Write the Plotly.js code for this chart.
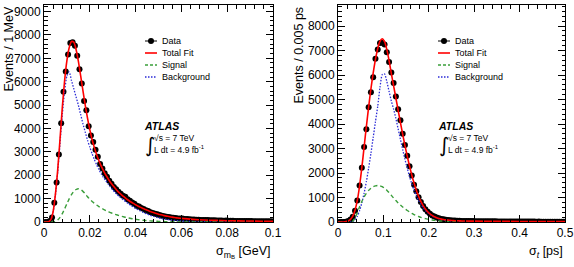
<!DOCTYPE html>
<html>
<head>
<meta charset="utf-8">
<script src="https://cdn.plot.ly/plotly-3.0.1.min.js"></script>
<style>
  html, body { margin: 0; padding: 0; background: #fff; }
  #chart { width: 574px; height: 267px; }
</style>
</head>
<body>
<div id="chart"></div>
<script>
// ---------- Left panel: per-candidate mass uncertainty (1 MeV bins) ----------
const massBinWidth = 0.001;
const massCounts = [
  0, 0, 40, 190, 825, 1690, 2890, 4220, 5575, 6440,
  7160, 7650, 7690, 7540, 7110, 6530, 5920, 5175, 4780, 4095,
  3700, 3425, 3090, 2790, 2480, 2290, 2080, 1930, 1760, 1640,
  1500, 1400, 1290, 1210, 1120, 1080, 970, 905, 830, 780,
  700, 660, 600, 555, 500, 470, 420, 390, 350, 330,
  295, 270, 250, 225, 210, 195, 180, 170, 155, 150,
  146, 130, 125, 121, 110, 105, 100, 93, 90, 88,
  82, 84, 76, 72, 70, 63, 64, 62, 58, 60,
  54, 52, 50, 45, 47, 45, 43, 42, 43, 39,
  38, 36, 35, 31, 33, 32, 31, 33, 30, 29
];
const massFitX = [
  0, 0.001, 0.002, 0.003, 0.004, 0.005, 0.006, 0.007, 0.008, 0.009,
  0.010, 0.011, 0.012, 0.013, 0.014, 0.015, 0.016, 0.017, 0.018, 0.019,
  0.020, 0.021, 0.022, 0.023, 0.024, 0.025, 0.026, 0.027, 0.028, 0.029,
  0.030, 0.031, 0.032, 0.033, 0.034, 0.035, 0.036, 0.037, 0.038, 0.039,
  0.040, 0.041, 0.042, 0.043, 0.044, 0.045, 0.046, 0.047, 0.048, 0.049,
  0.050, 0.051, 0.052, 0.053, 0.054, 0.055, 0.056, 0.057, 0.058, 0.059,
  0.060, 0.065, 0.070, 0.075, 0.080, 0.085, 0.090, 0.095, 0.100
];
const massTotalFit = [
  0, 0, 10, 100, 450, 1200, 2250, 3550, 4900, 6050,
  6900, 7450, 7720, 7690, 7380, 6880, 6260, 5620, 5000, 4440,
  3950, 3530, 3180, 2880, 2620, 2390, 2190, 2010, 1850, 1700,
  1570, 1450, 1340, 1240, 1150, 1070, 990, 920, 855, 795,
  740, 685, 635, 590, 545, 505, 465, 430, 395, 365,
  335, 310, 285, 262, 242, 224, 207, 192, 178, 166,
  155, 112, 85, 68, 56, 47, 40, 34, 30
];
const massSignal = [
  0, 0, 0, 0, 5, 30, 90, 200, 360, 560,
  780, 990, 1170, 1310, 1390, 1420, 1390, 1310, 1210, 1080,
  975, 880, 800, 725, 655, 595, 540, 490, 445, 405,
  365, 330, 300, 270, 242, 216, 192, 170, 150, 132,
  116, 101, 88, 77, 67, 58, 50, 44, 38, 33,
  28, 24, 21, 18, 15, 13, 11, 9, 8, 6,
  5, 2, 1, 0, 0, 0, 0, 0, 0
];
const massBackground = [
  0, 0, 10, 100, 440, 1160, 2150, 3380, 4600, 5600,
  6250, 6420, 6050, 5700, 5350, 5000, 4600, 4200, 3850, 3500,
  3200, 2920, 2670, 2440, 2240, 2060, 1900, 1760, 1630, 1500,
  1380, 1270, 1170, 1080, 1000, 920, 845, 775, 705, 640,
  580, 525, 475, 425, 380, 340, 300, 265, 235, 205,
  180, 158, 138, 120, 105, 92, 80, 70, 61, 53,
  46, 22, 11, 6, 3, 2, 1, 1, 0
];

// ---------- Right panel: per-candidate proper-time uncertainty (0.005 ps bins) ----------
const timeBinWidth = 0.005;
const timeCounts = [
  0, 0, 5, 15, 40, 100, 216, 460, 880, 1490,
  2210, 3064, 3783, 4690, 5300, 5910, 6670, 7040, 7310, 7320,
  7250, 6930, 6535, 6100, 5680, 5125, 4600, 4150, 3600, 3145,
  2700, 2280, 1900, 1520, 1260, 1010, 820, 650, 520, 420,
  340, 270, 220, 180, 150, 125, 108, 92, 80, 70,
  63, 58, 52, 48, 45, 42, 40, 38, 36, 37,
  33, 34, 31, 30, 31, 28, 29, 27, 26, 27,
  25, 24, 25, 22, 23, 22, 21, 22, 20, 19,
  20, 18, 19, 17, 18, 16, 17, 15, 16, 14,
  15, 14, 13, 14, 12, 13, 11, 12, 11, 10
];
const timeFitX = [
  0, 0.0075, 0.0125, 0.0175, 0.0225, 0.0275, 0.0325, 0.0375, 0.0425, 0.0475,
  0.0525, 0.0575, 0.0625, 0.0675, 0.0725, 0.0775, 0.0825, 0.0875, 0.0925, 0.0975,
  0.1025, 0.1075, 0.1125, 0.1175, 0.1225, 0.1275, 0.1325, 0.1375, 0.1425, 0.1475,
  0.1525, 0.1575, 0.1625, 0.1675, 0.1725, 0.1775, 0.1825, 0.1875, 0.1925, 0.1975,
  0.2025, 0.2075, 0.2125, 0.2175, 0.2225, 0.2275, 0.2325, 0.2375, 0.2425, 0.2475,
  0.2525, 0.2575, 0.2625, 0.2675, 0.2725, 0.2775, 0.2825, 0.30, 0.35, 0.40,
  0.45, 0.50
];
const timeTotalFit = [
  0, 0, 3, 15, 45, 110, 240, 480, 880, 1470,
  2220, 3060, 3900, 4700, 5430, 6080, 6640, 7080, 7380, 7480,
  7360, 7050, 6590, 6060, 5560, 5060, 4560, 4060, 3580, 3120,
  2690, 2290, 1920, 1590, 1300, 1050, 840, 670, 530, 420,
  335, 268, 215, 175, 143, 118, 100, 86, 75, 66,
  59, 54, 50, 46, 43, 41, 39, 35, 28, 23,
  19, 16
];
const timeSignal = [
  0, 0, 0, 0, 0, 0, 30, 150, 380, 620,
  840, 1020, 1170, 1290, 1380, 1440, 1475, 1490, 1480, 1440,
  1380, 1300, 1200, 1090, 980, 880, 780, 690, 610, 535,
  470, 410, 355, 305, 262, 224, 190, 162, 137, 115,
  97, 82, 68, 57, 47, 38, 31, 25, 20, 15,
  12, 9, 7, 5, 4, 3, 2, 1, 0, 0,
  0, 0
];
const timeBackground = [
  0, 0, 0, 0, 0, 0, 20, 90, 230, 460,
  780, 1180, 1650, 2200, 2800, 3450, 4100, 4720, 5500, 6020,
  6050, 5740, 5330, 4940, 4610, 4230, 3800, 3380, 2960, 2560,
  2200, 1860, 1560, 1300, 1070, 880, 720, 585, 475, 385,
  310, 250, 200, 162, 130, 105, 85, 68, 55, 44,
  36, 29, 24, 20, 17, 14, 12, 8, 4, 2,
  1, 1
];

// Labels
const legendLabels = ['Data', 'Total Fit', 'Signal', 'Background'];
const colours = { data: '#000000', total: '#ff0000', signal: '#3a9e3a', background: '#2b2bd6' };
const FONT = 'Liberation Sans, Arial, Helvetica, sans-serif';
const BKG_DASH = '1.5px,1.5px';
const SIG_DASH = '4px,3px';

const W = 574, H = 267;
const px = x => x / W;          // pixel -> paper x
const py = y => 1 - y / H;      // pixel -> paper y

function binCentres(width, n) {
  const c = [];
  for (let i = 0; i < n; i++) c.push((i + 0.5) * width);
  return c;
}

function panelTraces(xa, ya, centres, counts, halfWidth, fitX, total, sig, bkg) {
  return [
    {
      type: 'scatter', mode: 'markers', x: centres, y: counts, xaxis: xa, yaxis: ya,
      marker: { color: colours.data, size: 6 },
      error_y: { type: 'sqrt', color: '#000', thickness: 1, width: 0 },
      error_x: { type: 'constant', value: halfWidth, color: '#000', thickness: 1, width: 0 },
      showlegend: false, hoverinfo: 'skip'
    },
    {
      type: 'scatter', mode: 'lines', x: fitX, y: bkg, xaxis: xa, yaxis: ya,
      line: { color: colours.background, width: 1.3, dash: BKG_DASH, shape: 'spline', smoothing: 0.6 },
      showlegend: false, hoverinfo: 'skip'
    },
    {
      type: 'scatter', mode: 'lines', x: fitX, y: sig, xaxis: xa, yaxis: ya,
      line: { color: colours.signal, width: 1.4, dash: SIG_DASH, shape: 'spline', smoothing: 0.6 },
      showlegend: false, hoverinfo: 'skip'
    },
    {
      type: 'scatter', mode: 'lines', x: fitX, y: total, xaxis: xa, yaxis: ya,
      line: { color: colours.total, width: 1.6, shape: 'spline', smoothing: 0.6 },
      showlegend: false, hoverinfo: 'skip'
    }
  ];
}

const traces = [].concat(
  panelTraces('x', 'y', binCentres(massBinWidth, massCounts.length), massCounts, massBinWidth / 2,
              massFitX, massTotalFit, massSignal, massBackground),
  panelTraces('x2', 'y2', binCentres(timeBinWidth, timeCounts.length), timeCounts, timeBinWidth / 2,
              timeFitX, timeTotalFit, timeSignal, timeBackground)
);

function axisStyle(extra) {
  return Object.assign({
    showline: true, linecolor: '#000', linewidth: 1, mirror: 'allticks',
    ticks: 'inside', ticklen: 7, tickwidth: 1, tickcolor: '#000',
    showgrid: false, zeroline: false,
    tickfont: { family: FONT, size: 12, color: '#000' },
    fixedrange: true
  }, extra);
}

// Legend block and ATLAS label drawn as shapes + annotations, positioned in pixels
const shapes = [];
const annotations = [];

function legendBlock(x0, y0) {
  const dy = 12, len = 12;
  const ys = [y0, y0 + dy, y0 + 2 * dy, y0 + 3 * dy];
  // Data: line with marker
  shapes.push({ type: 'line', xref: 'paper', yref: 'paper', x0: px(x0), x1: px(x0 + len), y0: py(ys[0]), y1: py(ys[0]),
                line: { color: '#000', width: 1 } });
  shapes.push({ type: 'circle', xref: 'paper', yref: 'paper', x0: px(x0 + len / 2 - 3), x1: px(x0 + len / 2 + 3),
                y0: py(ys[0] - 3), y1: py(ys[0] + 3), fillcolor: '#000', line: { color: '#000', width: 0 } });
  shapes.push({ type: 'line', xref: 'paper', yref: 'paper', x0: px(x0), x1: px(x0 + len), y0: py(ys[1]), y1: py(ys[1]),
                line: { color: colours.total, width: 1.6 } });
  shapes.push({ type: 'line', xref: 'paper', yref: 'paper', x0: px(x0), x1: px(x0 + len), y0: py(ys[2]), y1: py(ys[2]),
                line: { color: colours.signal, width: 1.4, dash: '3px,2px' } });
  shapes.push({ type: 'line', xref: 'paper', yref: 'paper', x0: px(x0), x1: px(x0 + len), y0: py(ys[3]), y1: py(ys[3]),
                line: { color: colours.background, width: 1.3, dash: BKG_DASH } });
  legendLabels.forEach((t, i) => {
    annotations.push({ text: t, xref: 'paper', yref: 'paper', x: px(x0 + len + 3), y: py(ys[i]),
                       xanchor: 'left', yanchor: 'middle', showarrow: false,
                       font: { family: FONT, size: 9, color: '#000' } });
  });
}

function atlasBlock(x0, y0) {
  annotations.push({ text: '<b><i>ATLAS</i></b>', xref: 'paper', yref: 'paper', x: px(x0), y: py(y0),
                     xanchor: 'left', yanchor: 'middle', showarrow: false,
                     font: { family: FONT, size: 10.5, color: '#000' } });
  annotations.push({ text: '√s = 7 TeV', xref: 'paper', yref: 'paper', x: px(x0 + 10), y: py(y0 + 12),
                     xanchor: 'left', yanchor: 'middle', showarrow: false,
                     font: { family: FONT, size: 8.5, color: '#000' } });
  annotations.push({ text: 'L dt = 4.9 fb<sup>-1</sup>', xref: 'paper', yref: 'paper', x: px(x0 + 10), y: py(y0 + 23.5),
                     xanchor: 'left', yanchor: 'middle', showarrow: false,
                     font: { family: FONT, size: 8.5, color: '#000' } });
  annotations.push({ text: '∫', xref: 'paper', yref: 'paper', x: px(x0 + 1), y: py(y0 + 19),
                     xanchor: 'left', yanchor: 'middle', showarrow: false,
                     font: { family: 'DejaVu Sans, sans-serif', size: 20, color: '#000' } });
}

legendBlock(145, 41);
legendBlock(438, 41);
atlasBlock(142, 126);
atlasBlock(436, 126);

// Axis titles (ROOT style: aligned to the end of each axis)
annotations.push({ text: 'Events / 1 MeV', xref: 'paper', yref: 'paper', x: px(8), y: py(5),
                   xanchor: 'center', yanchor: 'top', textangle: -90, showarrow: false,
                   font: { family: FONT, size: 12.5, color: '#000' } });
annotations.push({ text: 'Events / 0.005 ps', xref: 'paper', yref: 'paper', x: px(298), y: py(5),
                   xanchor: 'center', yanchor: 'top', textangle: -90, showarrow: false,
                   font: { family: FONT, size: 12.5, color: '#000' } });
annotations.push({ text: 'σ<sub>m<sub>B</sub></sub> [GeV]', xref: 'paper', yref: 'paper', x: px(273), y: py(252),
                   xanchor: 'right', yanchor: 'middle', showarrow: false,
                   font: { family: FONT, size: 12.5, color: '#000' } });
annotations.push({ text: 'σ<sub><i>t</i></sub> [ps]', xref: 'paper', yref: 'paper', x: px(565), y: py(252),
                   xanchor: 'right', yanchor: 'middle', showarrow: false,
                   font: { family: FONT, size: 12.5, color: '#000' } });

const layout = {
  width: W, height: H,
  margin: { l: 0, r: 0, t: 0, b: 0 },
  paper_bgcolor: '#fff', plot_bgcolor: '#fff',
  showlegend: false,
  xaxis: axisStyle({ domain: [px(44), px(273)], range: [0, 0.1], dtick: 0.02, tick0: 0, anchor: 'y',
                     minor: { dtick: 0.004, ticklen: 3.5, ticks: 'inside', tickcolor: '#000' } }),
  yaxis: axisStyle({ domain: [py(222), py(5)], range: [0, 9280], dtick: 1000, tick0: 0, anchor: 'x',
                     minor: { dtick: 200, ticklen: 3.5, ticks: 'inside', tickcolor: '#000' } }),
  xaxis2: axisStyle({ domain: [px(338), px(565)], range: [0, 0.5], dtick: 0.1, tick0: 0, anchor: 'y2',
                      minor: { dtick: 0.02, ticklen: 3.5, ticks: 'inside', tickcolor: '#000' } }),
  yaxis2: axisStyle({ domain: [py(222), py(5)], range: [0, 8860], dtick: 1000, tick0: 0, anchor: 'x2',
                      minor: { dtick: 200, ticklen: 3.5, ticks: 'inside', tickcolor: '#000' } }),
  shapes: shapes,
  annotations: annotations
};

Plotly.newPlot('chart', traces, layout, { displayModeBar: false, staticPlot: true });
</script>
</body>
</html>
